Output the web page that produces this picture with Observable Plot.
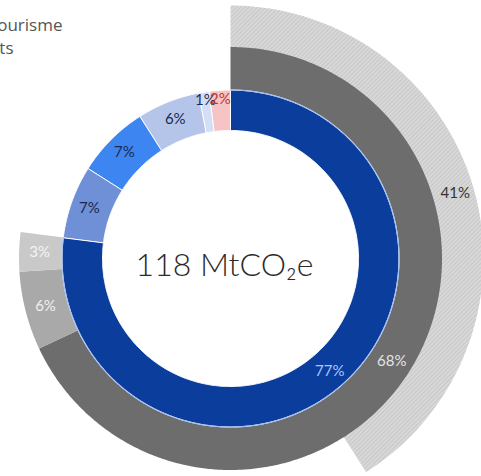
<!DOCTYPE html>
<html>
<head>
<meta charset="utf-8">
<script src="https://cdn.jsdelivr.net/npm/d3@7"></script>
<script src="https://cdn.jsdelivr.net/npm/@observablehq/plot@0.6"></script>
<style>
  html, body { margin: 0; padding: 0; background: #fff; }
  #chart svg { display: block; }
</style>
</head>
<body>
<div id="chart"></div>
<script>
// ---- data ----
const innerCats   = ["Transport", "Hébergement", "Restauration", "Activités", "Achats", "Autres"];
const innerValues = [77, 7, 7, 6, 1, 2];
const midCats     = ["Aérien", "Routier", "Ferroviaire"];
const midValues   = [68, 6, 3];
const outerCats   = ["Long-courrier"];
const outerValues = [41];
const totalLabel  = "118 MtCO₂e";
const legendLines = ["Hors tourisme", "Impacts"];

// ---- geometry helpers ----
const deg = v => v / 100 * 2 * Math.PI;
function segments(cats, values) {
  let acc = 0;
  return cats.map((c, i) => {
    const s = {cat: c, value: values[i], a0: deg(acc), a1: deg(acc + values[i]), i};
    acc += values[i];
    return s;
  });
}
function arcPoints(segs, r0, r1) {
  const pts = [];
  for (const s of segs) {
    const n = Math.max(2, Math.ceil((s.a1 - s.a0) / (Math.PI / 360)));
    for (let k = 0; k <= n; k++) {
      const a = s.a0 + (s.a1 - s.a0) * k / n;
      pts.push({cat: s.cat, x: r1 * Math.sin(a), y: r1 * Math.cos(a)});
    }
    for (let k = n; k >= 0; k--) {
      const a = s.a0 + (s.a1 - s.a0) * k / n;
      pts.push({cat: s.cat, x: r0 * Math.sin(a), y: r0 * Math.cos(a)});
    }
  }
  return pts;
}
function arcLine(seg, r) {
  const n = Math.ceil((seg.a1 - seg.a0) / (Math.PI / 360));
  return d3.range(n + 1).map(k => {
    const a = seg.a0 + (seg.a1 - seg.a0) * k / n;
    return {x: r * Math.sin(a), y: r * Math.cos(a)};
  });
}
function labelPoints(segs, rFn) {
  return segs.map(s => {
    const a = (s.a0 + s.a1) / 2, r = rFn(s);
    return {cat: s.cat, text: s.value + "%", x: r * Math.sin(a), y: r * Math.cos(a), i: s.i};
  });
}

const inner = segments(innerCats, innerValues);
const mid   = segments(midCats, midValues);
const outer = segments(outerCats, outerValues);

const R = {in0: 128, in1: 168.5, mid1: 211.5, out1: 253};

const innerLabelColors = ["#a9c7ff", "#1b2a4e", "#1b2a4e", "#1b2a4e", "#1b2a4e", "#c0392b"];
const midLabelColors = ["#e4e4e4", "#f0f0f0", "#f4f4f4"];

const chart = Plot.plot({
  width: 481,
  height: 476,
  margin: 0,
  x: {domain: [-230, 251], axis: null},
  y: {domain: [-218, 258], axis: null},
  color: {
    domain: [...innerCats, ...midCats],
    range: ["#0b3d9d", "#6f8fd6", "#3d86f2", "#b5c5ea", "#d3dff6", "#f6c4c4",
            "#6d6d6d", "#a9a9a9", "#c9c9c9"]
  },
  style: {background: "transparent", overflow: "visible"},
  marks: [
    Plot.line(arcPoints(outer, R.mid1 - 1, R.out1), {x: "x", y: "y", z: "cat", fill: "url(#hatch)", stroke: "none", curve: "linear-closed"}),
    Plot.line(arcPoints(mid, R.in1, R.mid1), {x: "x", y: "y", z: "cat", fill: "cat", stroke: "none", curve: "linear-closed"}),
    Plot.line(arcPoints(inner, R.in0, R.in1), {x: "x", y: "y", z: "cat", fill: "cat", stroke: "white", strokeWidth: 1, curve: "linear-closed"}),
    Plot.line(arcLine(inner[0], R.in1), {x: "x", y: "y", stroke: "#a8c0f0", strokeWidth: 1.2}),
    Plot.text(labelPoints(inner, s => s.value <= 2 ? 160 : 150), {
      x: "x", y: "y", text: "text", fontSize: 15, fontFamily: "Lato, sans-serif",
      fill: d => innerLabelColors[d.i]
    }),
    Plot.text(labelPoints(mid, s => 191), {
      x: "x", y: "y", text: "text", fontSize: 15, fontFamily: "Lato, sans-serif",
      fill: d => midLabelColors[d.i]
    }),
    Plot.text(labelPoints(outer, s => 234), {
      x: "x", y: "y", text: "text", fontSize: 15, fontFamily: "Lato, sans-serif", fill: "#333"
    }),
    Plot.text([totalLabel], {
      x: () => -6, y: () => -7, text: d => d, fontSize: 32, fontWeight: 300, fontFamily: "Lato, sans-serif", fill: "#2b2b2b"
    }),
    Plot.text(legendLines, {
      x: (d, i) => [62, 13][i] - 230, y: (d, i) => 258 - [25, 48][i],
      text: d => d, textAnchor: "end", fontSize: 17, fontFamily: "'Open Sans', sans-serif", fill: "#555"
    })
  ]
});

// hatch pattern for the outer ring
const ns = "http://www.w3.org/2000/svg";
const defs = document.createElementNS(ns, "defs");
defs.innerHTML = `<pattern id="hatch" patternUnits="userSpaceOnUse" width="3" height="3" patternTransform="rotate(45)">
  <rect width="3" height="3" fill="#d8d8d8"></rect>
  <line x1="0" y1="0" x2="0" y2="3" stroke="#bcbcbc" stroke-width="1.2"></line>
</pattern>`;
chart.insertBefore(defs, chart.firstChild);

document.getElementById("chart").appendChild(chart);
</script>
</body>
</html>
